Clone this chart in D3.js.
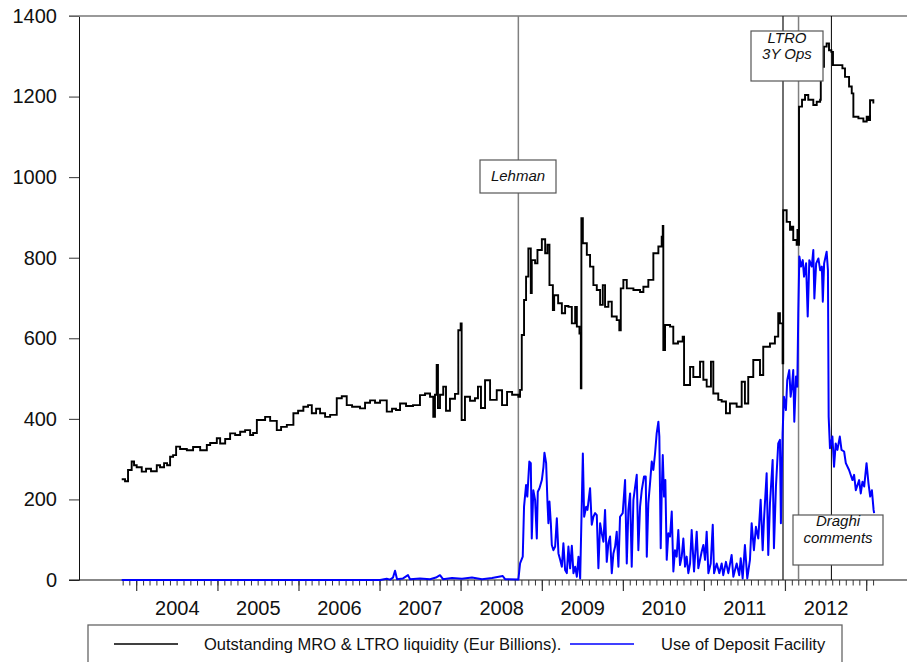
<!DOCTYPE html>
<html>
<head>
<meta charset="utf-8">
<script src="https://cdn.jsdelivr.net/npm/d3@7/dist/d3.min.js"></script>
<style>
  body { margin: 0; background: #fff; }
  svg { display: block; }
  text { font-family: "Liberation Sans", Arial, sans-serif; fill: #111; }
</style>
</head>
<body>
<svg id="chart" width="907" height="662"></svg>
<script>
// Outstanding MRO & LTRO liquidity (Eur bn), time in decimal years
const mroT = [2003.815,2003.856,2003.893,2003.938,2003.967,2004.000,2004.062,2004.115,2004.176,2004.247,
  2004.287,2004.337,2004.374,2004.411,2004.448,2004.485,2004.534,2004.617,2004.694,2004.781,
  2004.863,2004.904,2004.986,2005.027,2005.089,2005.150,2005.212,2005.274,2005.335,2005.397,
  2005.434,2005.480,2005.582,2005.644,2005.726,2005.779,2005.850,2005.931,2005.989,2006.054,
  2006.112,2006.158,2006.211,2006.260,2006.322,2006.384,2006.466,2006.528,2006.589,2006.655,
  2006.753,2006.815,2006.877,2006.938,2007.000,2007.083,2007.148,2007.197,2007.247,2007.321,
  2007.407,2007.493,2007.555,2007.617,2007.657,2007.678,2007.699,2007.715,2007.740,2007.780,
  2007.814,2007.863,2007.925,2007.966,2007.995,2008.007,2008.048,2008.110,2008.171,2008.208,
  2008.245,2008.295,2008.357,2008.439,2008.504,2008.566,2008.628,2008.705,2008.726,2008.747,
  2008.775,2008.800,2008.828,2008.858,2008.870,2008.911,2008.940,2008.994,2009.035,2009.063,
  2009.088,2009.130,2009.146,2009.195,2009.241,2009.281,2009.322,2009.364,2009.405,2009.426,
  2009.458,2009.475,2009.482,2009.500,2009.549,2009.589,2009.630,2009.672,2009.713,2009.746,
  2009.774,2009.815,2009.857,2009.918,2009.950,2009.968,2010.000,2010.042,2010.124,2010.206,
  2010.247,2010.308,2010.370,2010.432,2010.473,2010.486,2010.493,2010.514,2010.576,2010.616,
  2010.674,2010.732,2010.749,2010.823,2010.863,2010.946,2010.987,2011.028,2011.081,2011.110,
  2011.171,2011.213,2011.266,2011.315,2011.398,2011.460,2011.500,2011.541,2011.603,2011.686,
  2011.726,2011.809,2011.870,2011.911,2011.932,2011.965,2011.973,2012.015,2012.056,2012.074,
  2012.096,2012.138,2012.148,2012.158,2012.167,2012.204,2012.241,2012.281,2012.343,2012.385,
  2012.427,2012.435,2012.474,2012.507,2012.536,2012.565,2012.585,2012.655,2012.701,2012.733,
  2012.783,2012.816,2012.836,2012.898,2012.959,2013.000,2013.020,2013.041,2013.082];
const mroV = [250,245,273,294,285,280,269,276,270,285,
  280,290,285,306,310,331,325,322,330,322,
  335,340,352,339,350,364,360,368,372,360,
  365,397,405,395,372,380,385,414,420,430,
  434,414,425,414,405,410,451,456,434,430,
  426,440,446,440,446,418,425,422,438,432,
  434,459,463,455,405,460,534,427,460,480,
  420,450,462,620,637,397,455,445,451,480,
  427,496,447,471,434,467,460,455,472,608,
  695,753,823,712,794,786,819,846,811,832,
  732,670,707,687,662,680,678,637,678,629,
  612,476,898,836,807,778,732,720,683,732,
  678,691,654,645,620,724,745,724,720,715,
  728,745,811,828,852,879,571,633,629,587,
  592,604,484,529,504,542,497,480,542,463,
  447,443,414,438,430,492,438,504,546,509,
  579,587,604,662,637,538,918,889,869,877,
  844,832,869,832,1175,1192,1204,1192,1179,1187,
  1192,1274,1324,1332,1315,1311,1278,1278,1270,1249,
  1225,1208,1150,1146,1138,1150,1142,1191,1183];

// Use of the deposit facility (Eur bn)
const depT = [2003.815,2007.000,2007.083,2007.124,2007.160,2007.185,2007.210,2007.284,2007.345,2007.370,
  2007.493,2007.617,2007.690,2007.740,2007.777,2007.888,2008.011,2008.134,2008.258,2008.381,
  2008.513,2008.541,2008.705,2008.726,2008.759,2008.775,2008.800,2008.815,2008.840,2008.858,
  2008.870,2008.889,2008.911,2008.932,2008.944,2008.964,2008.994,2009.014,2009.026,2009.047,
  2009.063,2009.075,2009.088,2009.105,2009.117,2009.137,2009.158,2009.179,2009.199,2009.220,
  2009.241,2009.260,2009.281,2009.302,2009.322,2009.343,2009.364,2009.384,2009.405,2009.426,
  2009.446,2009.467,2009.500,2009.516,2009.541,2009.557,2009.589,2009.610,2009.630,2009.651,
  2009.672,2009.692,2009.713,2009.733,2009.754,2009.774,2009.795,2009.815,2009.836,2009.857,
  2009.877,2009.898,2009.918,2009.939,2009.959,2009.992,2010.021,2010.042,2010.062,2010.083,
  2010.103,2010.124,2010.145,2010.165,2010.185,2010.206,2010.227,2010.255,2010.276,2010.289,
  2010.308,2010.329,2010.350,2010.370,2010.391,2010.411,2010.432,2010.444,2010.461,2010.473,
  2010.486,2010.502,2010.518,2010.535,2010.555,2010.576,2010.597,2010.617,2010.637,2010.658,
  2010.678,2010.699,2010.720,2010.740,2010.761,2010.781,2010.802,2010.823,2010.843,2010.872,
  2010.905,2010.925,2010.966,2010.987,2011.008,2011.028,2011.049,2011.078,2011.103,2011.119,
  2011.152,2011.184,2011.213,2011.233,2011.266,2011.295,2011.336,2011.357,2011.398,2011.430,
  2011.448,2011.472,2011.500,2011.529,2011.562,2011.583,2011.611,2011.636,2011.665,2011.694,
  2011.719,2011.735,2011.768,2011.788,2011.809,2011.842,2011.858,2011.883,2011.911,2011.932,
  2011.944,2011.965,2011.981,2012.006,2012.022,2012.047,2012.064,2012.080,2012.096,2012.109,
  2012.130,2012.146,2012.158,2012.171,2012.192,2012.213,2012.229,2012.254,2012.274,2012.294,
  2012.324,2012.343,2012.356,2012.378,2012.406,2012.427,2012.448,2012.460,2012.476,2012.507,
  2012.523,2012.532,2012.548,2012.578,2012.598,2012.619,2012.640,2012.669,2012.690,2012.722,
  2012.743,2012.783,2012.825,2012.845,2012.866,2012.907,2012.927,2012.948,2012.969,2012.998,
  2013.022,2013.043,2013.064,2013.085,2013.092];
const depV = [0,0,3,1,6,23,2,4,12,2,
  4,2,6,12,2,5,3,6,2,5,
  10,2,1,41,58,182,236,207,294,290,
  103,223,199,103,219,227,248,281,316,290,
  195,141,195,141,87,74,83,153,66,50,
  33,91,25,17,83,29,85,17,33,8,
  58,4,314,157,182,174,228,137,157,166,
  161,29,141,116,95,174,45,91,108,17,
  66,83,120,33,157,166,248,41,174,215,
  33,199,231,261,74,182,223,257,257,58,
  190,240,294,273,314,364,393,356,79,215,
  310,207,248,50,116,108,170,21,74,58,
  124,37,58,103,33,58,17,41,124,21,
  120,29,70,87,50,120,17,41,137,17,
  41,17,41,12,45,17,62,8,41,12,
  54,4,87,4,50,141,74,132,103,199,
  74,149,265,62,190,298,79,232,339,348,
  141,364,455,422,496,521,455,480,521,393,
  505,480,662,803,778,794,753,786,654,794,
  778,819,699,786,798,769,778,691,786,815,
  769,405,327,356,281,339,323,356,323,319,
  290,273,248,261,223,248,215,244,232,290,
  240,207,223,174,166];

const yTicks = [0, 200, 400, 600, 800, 1000, 1200, 1400];
const yearLabels = [2004, 2005, 2006, 2007, 2008, 2009, 2010, 2011, 2012];
const seriesNames = ["Outstanding MRO & LTRO liquidity (Eur Billions).", "Use of Deposit Facility"];

const svg = d3.select("#chart");

function yr(t) {
  const y = Math.floor(t);
  const a = new Date(y, 0, 1), b = new Date(y + 1, 0, 1);
  return new Date(+a + (t - y) * (b - a));
}

const x = d3.scaleTime()
  .domain([new Date(2004, 0, 1), new Date(2013, 0, 1)])
  .range([136.7, 866.7]);
const y = d3.scaleLinear().domain([0, 1400]).range([580, 16]);

// y axis
const yAxis = svg.append("g")
  .attr("transform", "translate(79,0)")
  .call(d3.axisLeft(y).tickValues(yTicks).tickFormat(d3.format("d"))
    .tickSize(10).tickSizeOuter(0).tickPadding(12));
yAxis.selectAll("text").style("font-size", "20px").attr("fill", "#111");
yAxis.selectAll("line").attr("stroke", "#333");
yAxis.select(".domain").attr("stroke", "#111");

// top frame line and bottom baseline
svg.append("line").attr("x1", 69).attr("x2", 907).attr("y1", y(1400)).attr("y2", y(1400))
  .attr("stroke", "#777").attr("stroke-width", 1.3);
svg.append("line").attr("x1", 69).attr("x2", 907).attr("y1", y(0)).attr("y2", y(0))
  .attr("stroke", "#111").attr("stroke-width", 1.2);

// x axis: monthly minor ticks, yearly major ticks
const xAxisG = svg.append("g").attr("transform", "translate(0,580)");
const minor = d3.timeMonth.range(new Date(2003, 10, 1), new Date(2013, 1, 2));
xAxisG.selectAll(".minor").data(minor).join("line")
  .attr("x1", d => x(d)).attr("x2", d => x(d))
  .attr("y1", 0).attr("y2", 5.5)
  .attr("stroke", "#333").attr("stroke-width", 1);
const major = d3.timeYear.range(new Date(2004, 0, 1), new Date(2013, 0, 2));
xAxisG.selectAll(".major").data(major).join("line")
  .attr("x1", d => x(d)).attr("x2", d => x(d))
  .attr("y1", 0).attr("y2", 11)
  .attr("stroke", "#333").attr("stroke-width", 1.2);
xAxisG.selectAll(".yl").data(yearLabels).join("text")
  .attr("x", d => x(new Date(d, 6, 2)))
  .attr("y", 35)
  .attr("text-anchor", "middle")
  .style("font-size", "20px")
  .text(d => d);

// event lines
const events = [
  { date: new Date(2008, 8, 15), color: "#808080", w: 1.5 },
  { date: new Date(2011, 11, 21), color: "#222", w: 1.3 },
  { date: new Date(2012, 1, 29), color: "#808080", w: 1.5 },
  { date: new Date(2012, 6, 26), color: "#000", w: 1 }
];
svg.selectAll(".ev").data(events).join("line")
  .attr("x1", d => x(d.date)).attr("x2", d => x(d.date))
  .attr("y1", y(1400)).attr("y2", y(0))
  .attr("stroke", d => d.color).attr("stroke-width", d => d.w);

// series
const mro = mroT.map((t, i) => [yr(t), mroV[i]]);
const dep = depT.map((t, i) => [yr(t), depV[i]]);

svg.append("path").datum(dep)
  .attr("fill", "none").attr("stroke", "#0000ff").attr("stroke-width", 2)
  .attr("stroke-linejoin", "round")
  .attr("d", d3.line().x(d => x(d[0])).y(d => y(d[1])));

svg.append("path").datum(mro)
  .attr("fill", "none").attr("stroke", "#000").attr("stroke-width", 1.9)
  .attr("d", d3.line().curve(d3.curveStepAfter).x(d => x(d[0])).y(d => y(d[1])));

// annotation boxes
const notes = [
  { lines: ["Lehman"], x0: 480, y0: 160, w: 76, h: 33, ty: 181 },
  { lines: ["LTRO", "3Y Ops"], x0: 751, y0: 31, w: 72, h: 50, ty: 42.5 },
  { lines: ["Draghi", "comments"], x0: 793, y0: 515, w: 90, h: 50, ty: 526 }
];
notes.forEach(n => {
  svg.append("rect").attr("x", n.x0).attr("y", n.y0).attr("width", n.w).attr("height", n.h)
    .attr("fill", "#fff").attr("stroke", "#555").attr("stroke-width", 1.2);
  n.lines.forEach((s, i) => {
    svg.append("text").attr("x", n.x0 + n.w / 2).attr("y", n.ty + i * 16.5)
      .attr("text-anchor", "middle").style("font-size", "15px").style("font-style", "italic")
      .text(s);
  });
});

// legend
const lg = svg.append("g");
lg.append("rect").attr("x", 88).attr("y", 625).attr("width", 754).attr("height", 60)
  .attr("fill", "none").attr("stroke", "#666").attr("stroke-width", 1.3);
const legendItems = [
  { name: seriesNames[0], color: "#000", lx: 114, tx: 204 },
  { name: seriesNames[1], color: "#0000ff", lx: 570, tx: 661 }
];
legendItems.forEach(d => {
  lg.append("line").attr("x1", d.lx).attr("x2", d.lx + 64).attr("y1", 644).attr("y2", 644)
    .attr("stroke", d.color).attr("stroke-width", 1.7);
  lg.append("text").attr("x", d.tx).attr("y", 650).style("font-size", "16.5px").text(d.name);
});
</script>
</body>
</html>
